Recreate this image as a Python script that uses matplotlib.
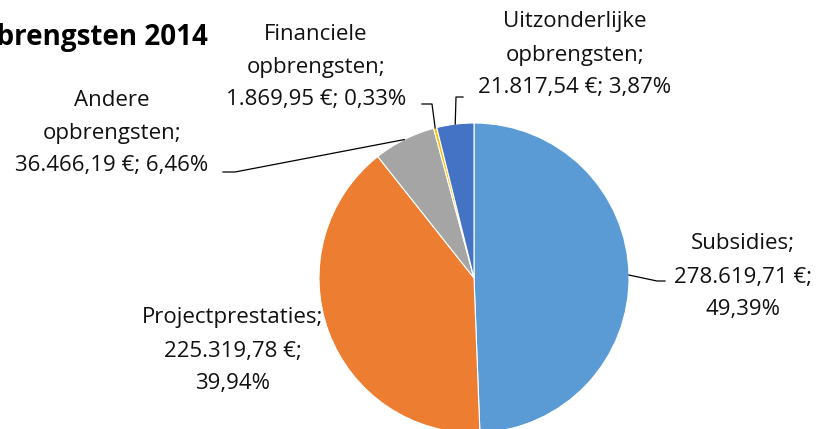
import numpy as np
import matplotlib.pyplot as plt

plt.rcParams["font.family"] = ["Open Sans", "DejaVu Sans"]

categories = ["Subsidies", "Projectprestaties", "Andere\nopbrengsten", "Financiele\nopbrengsten",
              "Uitzonderlijke\nopbrengsten"]
values = [278619.71, 225319.78, 36466.19, 1869.95, 21817.54]
colors = ["#5B9BD5", "#ED7D31", "#A5A5A5", "#FFC000", "#4472C4"]
title = "Opbrengsten 2014"


def euro(v):
    s = f"{v:,.2f}"
    return s.replace(",", "X").replace(".", ",").replace("X", ".")


total = sum(values)
pcts = [v / total * 100 for v in values]

fig = plt.figure(figsize=(8.24, 4.29), dpi=100)
ax = fig.add_axes([0, 0, 1, 1])

# pixel coordinates, y pointing down
cx, cy, r = 474, 278, 155
wedges, _ = ax.pie(values, colors=colors, startangle=-90, counterclock=True,
                   center=(cx, cy), radius=r,
                   wedgeprops=dict(edgecolor="white", linewidth=0.8))
ax.set_xlim(0, 824)
ax.set_ylim(429, 0)
ax.set_aspect("equal")
ax.axis("off")

# label layout: text centre, line breaks, leader elbow points
layout = [
    dict(xy=(743, 277), fmt="{c};\n{v} €;\n{p}%", line=[(665, 281), (657, 281)]),
    dict(xy=(233, 351), fmt="{c};\n{v} €;\n{p}%", line=None),
    dict(xy=(112, 133), fmt="{c};\n{v} €; {p}%", line=[(223, 172), (235, 172)]),
    dict(xy=(316, 67), fmt="{c};\n{v} €; {p}%", line=[(422, 104), (432, 104)]),
    dict(xy=(575, 55), fmt="{c};\n{v} €; {p}%", line=[(463, 97), (456, 97)]),
]

for w, cat, val, pct, lay in zip(wedges, categories, values, pcts, layout):
    txt = lay["fmt"].format(c=cat, v=euro(val), p=f"{pct:.2f}".replace(".", ","))
    ax.text(lay["xy"][0], lay["xy"][1], txt, ha="center", va="center",
            fontsize=16, color="#111111", linespacing=1.75)
    if lay["line"]:
        th = np.deg2rad((w.theta1 + w.theta2) / 2)
        ax_pt = (cx + r * np.cos(th), cy + r * np.sin(th))
        pts = lay["line"] + [ax_pt]
        ax.plot([p[0] for p in pts], [p[1] for p in pts], color="black", lw=0.9)

# title partly outside the canvas, as in the original
ax.text(208, 38, title, ha="right", va="center", fontsize=20, fontweight="bold", color="black")

fig.savefig("out.png", dpi=100)
